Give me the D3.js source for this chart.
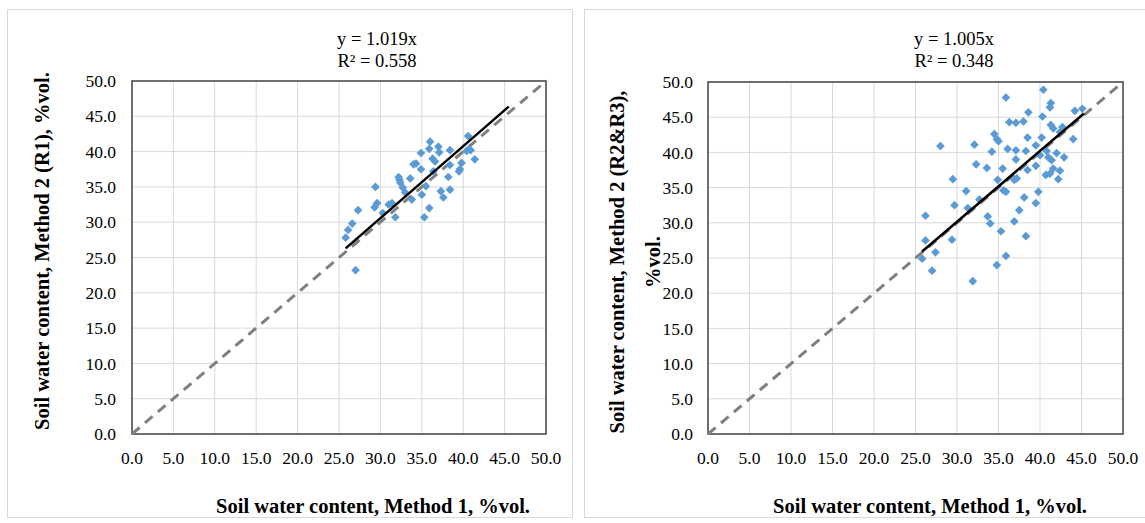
<!DOCTYPE html>
<html>
<head>
<meta charset="utf-8">
<script src="https://cdn.jsdelivr.net/npm/d3@7"></script>
<style>
  html, body { margin: 0; padding: 0; background: #fff; }
</style>
</head>
<body>
<svg id="chart" width="1145" height="523" font-family="Liberation Serif, DejaVu Serif, serif"></svg>
<script>
// ── Data ─────────────────────────────────────────────────────
const TICKS = [0, 5, 10, 15, 20, 25, 30, 35, 40, 45, 50];

// R1: [method 1, method 2]
const pointsR1 = [
  [27.0,23.2],[25.8,27.8],[26.1,28.9],[26.6,29.8],[27.3,31.7],[29.4,35.0],[29.3,32.1],
  [29.6,32.7],[30.3,31.3],[31.0,32.5],[31.4,32.7],[31.8,30.7],[32.2,36.4],[32.4,35.6],
  [32.7,34.9],[32.3,36.0],[33.0,34.2],[33.6,36.2],[33.8,33.2],[34.0,38.2],[34.3,38.3],
  [34.9,37.5],[34.9,39.8],[35.0,33.9],[35.3,30.7],[35.5,35.1],[35.9,32.0],[36.0,41.4],
  [35.9,40.4],[36.3,39.0],[36.4,37.2],[36.6,38.6],[37.0,40.7],[37.1,39.9],[37.3,34.4],
  [37.6,33.5],[38.2,36.4],[38.4,40.2],[38.4,38.1],[38.4,34.6],[39.5,37.2],[39.6,37.5],
  [39.8,38.4],[40.4,40.1],[40.7,40.3],[40.6,42.2],[40.9,40.2],[41.4,38.9]
];

// R2&R3
const pointsR23 = [
  [40.4,48.9],[35.9,47.8],[41.3,47.0],[41.2,46.4],[38.6,45.7],[40.3,45.1],[44.2,45.9],
  [45.1,46.2],[36.3,44.3],[37.1,44.2],[38.0,44.4],[41.3,43.9],[41.6,43.4],[42.7,43.6],
  [42.4,42.9],[34.5,42.6],[34.8,41.9],[35.0,41.6],[38.5,42.1],[40.2,42.1],[44.0,41.9],
  [28.0,40.9],[32.1,41.1],[34.2,40.1],[36.1,40.5],[37.1,40.3],[38.3,40.2],[39.5,41.0],
  [40.0,39.6],[40.8,40.2],[41.0,39.3],[41.4,38.9],[42.0,39.9],[42.9,39.3],[32.3,38.3],
  [33.6,37.8],[35.5,37.7],[37.1,39.0],[38.5,37.5],[39.5,38.1],[40.7,36.8],[41.2,37.0],
  [41.6,37.7],[42.4,37.4],[42.2,36.2],[29.5,36.2],[34.9,36.1],[36.9,36.1],[37.2,36.3],
  [31.1,34.5],[35.6,34.6],[35.9,34.4],[39.8,34.4],[32.7,33.3],[29.7,32.5],[38.1,33.6],
  [39.5,32.8],[37.5,31.8],[31.3,32.1],[26.2,31.0],[33.7,30.9],[34.0,29.9],[36.9,30.2],
  [35.3,28.8],[38.3,28.1],[26.2,27.5],[29.4,27.6],[27.4,25.8],[25.8,24.9],[35.9,25.3],
  [27.0,23.2],[34.8,24.0],[31.9,21.7]
];

const panels = [
  {
    points: pointsR1, slope: 1.019, trendRange: [25.8, 45.5],
    eq: ["y = 1.019x", "R² = 0.558"],
    yTitle: ["Soil water content, Method  2 (R1), %vol."],
    xTitle: "Soil water content, Method 1, %vol.",
    frame: [7.5, 9.5, 565, 508],
    plot: { x0: 132, x1: 546, y0: 81, y1: 434 },
    yTitleX: [42], yTitleY: 251, eqX: 377, xTitleX: 373, yTickX: 116
  },
  {
    points: pointsR23, slope: 1.005, trendRange: [25.8, 45.3],
    eq: ["y = 1.005x", "R² = 0.348"],
    yTitle: ["Soil water content, Method  2 (R2&R3),", "%vol."],
    xTitle: "Soil water content, Method 1, %vol.",
    frame: [584.5, 9.5, 570, 508],
    plot: { x0: 708, x1: 1123, y0: 82, y1: 434 },
    yTitleX: [617, 653], yTitleY: 262, eqX: 954, xTitleX: 930, yTickX: 693
  }
];

const svg = d3.select("#chart");
const fmt = d3.format(".1f");

panels.forEach(drawPanel);

function drawPanel(p) {
  const g = svg.append("g");

  // outer chart frame
  g.append("rect")
    .attr("x", p.frame[0]).attr("y", p.frame[1])
    .attr("width", p.frame[2]).attr("height", p.frame[3])
    .attr("fill", "none").attr("stroke", "#d9d9d9");

  const x = d3.scaleLinear().domain([0, 50]).range([p.plot.x0, p.plot.x1]);
  const y = d3.scaleLinear().domain([0, 50]).range([p.plot.y1, p.plot.y0]);

  // gridlines
  g.append("g").selectAll("line.v").data(TICKS.slice(1, -1)).join("line")
    .attr("x1", (d) => x(d)).attr("x2", (d) => x(d))
    .attr("y1", y(0)).attr("y2", y(50))
    .attr("stroke", "#d9d9d9").attr("stroke-width", 1);
  g.append("g").selectAll("line.h").data(TICKS.slice(1, -1)).join("line")
    .attr("y1", (d) => y(d)).attr("y2", (d) => y(d))
    .attr("x1", x(0)).attr("x2", x(50))
    .attr("stroke", "#d9d9d9").attr("stroke-width", 1);

  // tick labels
  g.append("g").selectAll("text").data(TICKS).join("text")
    .attr("x", (d) => x(d)).attr("y", y(0) + 30)
    .attr("text-anchor", "middle").attr("font-size", 17.5)
    .text((d) => fmt(d));
  g.append("g").selectAll("text").data(TICKS).join("text")
    .attr("x", p.yTickX).attr("y", (d) => y(d)).attr("dy", "0.35em")
    .attr("text-anchor", "end").attr("font-size", 17.5)
    .text((d) => fmt(d));

  // plot border
  g.append("rect")
    .attr("x", x(0)).attr("y", y(50))
    .attr("width", x(50) - x(0)).attr("height", y(0) - y(50))
    .attr("fill", "none").attr("stroke", "#404040").attr("stroke-width", 1.5);

  // 1:1 line
  g.append("line")
    .attr("x1", x(0)).attr("y1", y(0)).attr("x2", x(50)).attr("y2", y(50))
    .attr("stroke", "#7f7f7f").attr("stroke-width", 3)
    .attr("stroke-dasharray", "10 7");

  // points
  const sym = d3.symbol(d3.symbolSquare, 38);
  g.append("g").selectAll("path").data(p.points).join("path")
    .attr("d", sym)
    .attr("transform", (d) => `translate(${x(d[0])},${y(d[1])}) rotate(45)`)
    .attr("fill", "#5b9bd5");

  // trendline
  const [t0, t1] = p.trendRange;
  g.append("line")
    .attr("x1", x(t0)).attr("y1", y(p.slope * t0))
    .attr("x2", x(t1)).attr("y2", y(p.slope * t1))
    .attr("stroke", "#000").attr("stroke-width", 2.5);

  // equation
  g.append("g").selectAll("text").data(p.eq).join("text")
    .attr("x", p.eqX).attr("y", (d, i) => 45 + i * 22)
    .attr("text-anchor", "middle").attr("font-size", 18.5)
    .text((d) => d);

  // axis titles
  g.append("text")
    .attr("x", p.xTitleX).attr("y", 513)
    .attr("text-anchor", "middle").attr("font-size", 20.5).attr("font-weight", "bold")
    .text(p.xTitle);
  p.yTitle.forEach((line, i) => {
    g.append("text")
      .attr("transform", `translate(${p.yTitleX[i]},${p.yTitleY}) rotate(-90)`)
      .attr("dy", "0.35em")
      .attr("text-anchor", "middle").attr("font-size", 20.5).attr("font-weight", "bold")
      .text(line);
  });
}
</script>
</body>
</html>
